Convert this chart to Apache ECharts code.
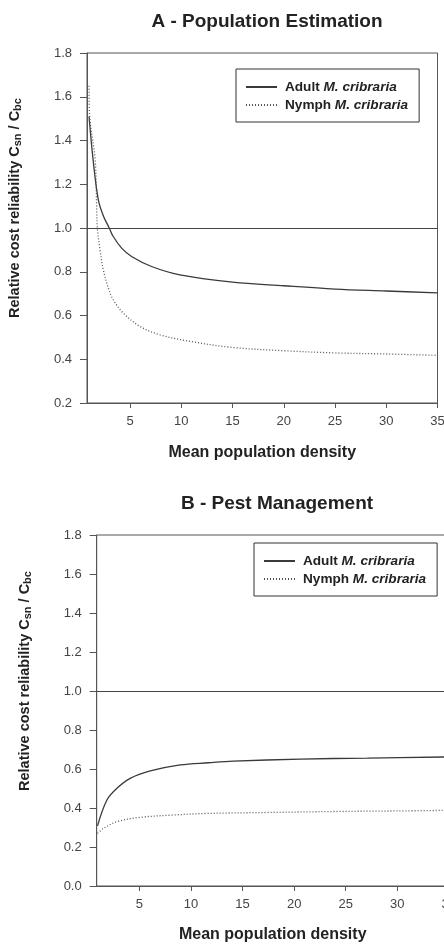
<!DOCTYPE html>
<html>
<head>
<meta charset="utf-8">
<script src="https://cdn.jsdelivr.net/npm/echarts@6/dist/echarts.min.js"></script>
<style>
  html, body { margin: 0; padding: 0; background: #fff; }
  #chart { width: 444px; height: 947px; }
</style>
</head>
<body>
<div id="chart"></div>
<script>
// values
const adultAX = [1.0, 1.4, 1.9, 2.4, 2.97, 3.36, 4.18, 5.15, 7.1, 9.86, 15, 20, 25, 30, 35]
const adultAY = [1.51, 1.31, 1.13, 1.055, 1.0, 0.961, 0.908, 0.870, 0.824, 0.786, 0.753, 0.736, 0.721, 0.712, 0.703]
const nymphAX = [1.0, 1.05, 1.6, 1.74, 1.81, 2.07, 2.39, 2.88, 3.36, 4.34, 5.97, 7.9, 10.84, 15, 20, 25, 30, 35]
const nymphAY = [1.65, 1.52, 1.31, 1.10, 1.0, 0.90, 0.809, 0.726, 0.672, 0.611, 0.55, 0.512, 0.482, 0.454, 0.439, 0.429, 0.424, 0.418]

const adultBX = [0.93, 1.84, 2.81, 4.1, 6.04, 8.95, 11.7, 14.1, 20.6, 27.1, 35]
const adultBY = [0.308, 0.441, 0.501, 0.552, 0.59, 0.621, 0.632, 0.640, 0.651, 0.656, 0.662]
const nymphBX = [0.93, 1.5, 2.81, 5.07, 8.3, 11.5, 17.4, 23.9, 30, 35]
const nymphBY = [0.27, 0.295, 0.33, 0.352, 0.364, 0.372, 0.377, 0.382, 0.385, 0.388]

const xTicks = [5, 10, 15, 20, 25, 30, 35]
const seriesNames = ['Adult M. cribraria', 'Nymph M. cribraria']
const titles = ['A - Population Estimation', 'B - Pest Management']
const xName = 'Mean population density'
const refValue = 1.0

const FONT = 'Liberation Sans, Arial, sans-serif'
const AXIS = '#555'

const zip = (xs, ys) => xs.map((x, i) => [x, ys[i]])

const xAxisOf = (gridIndex, min) => ({
  type: 'value',
  gridIndex,
  min,
  max: 35,
  name: xName,
  nameLocation: 'middle',
  nameGap: gridIndex === 0 ? 42 : 41,
  nameTextStyle: { fontFamily: FONT, fontSize: 16, fontWeight: 'bold', color: '#222' },
  axisLine: { lineStyle: { color: AXIS, width: 1 } },
  axisTick: { customValues: xTicks, length: 5, lineStyle: { color: AXIS } },
  axisLabel: { customValues: xTicks, margin: 12, fontFamily: FONT, fontSize: 13, color: '#444' },
  splitLine: { show: false }
})

const yAxisOf = (gridIndex, min) => ({
  type: 'value',
  gridIndex,
  min,
  max: 1.8,
  interval: 0.2,
  axisLine: { show: true, lineStyle: { color: AXIS, width: 1 } },
  axisTick: { show: true, length: 7, lineStyle: { color: AXIS } },
  axisLabel: {
    margin: 15, fontFamily: FONT, fontSize: 13, color: '#444',
    formatter: v => v.toFixed(1)
  },
  splitLine: { show: false }
})

const lineSeries = (name, data, idx, dotted) => ({
  name,
  type: 'line',
  xAxisIndex: idx,
  yAxisIndex: idx,
  data,
  smooth: 0.35,
  symbol: 'none',
  lineStyle: dotted
    ? { color: '#555', width: 1.3, type: [1, 2] }
    : { color: '#3a3a3a', width: 1.3, type: 'solid' },
  itemStyle: { color: dotted ? '#555' : '#3a3a3a' }
})

const refLine = {
  silent: true,
  symbol: 'none',
  label: { show: false },
  lineStyle: { color: '#444', width: 1.2, type: 'solid' },
  data: [{ yAxis: refValue }]
}

const legendOf = (left, top) => ({
  left, top,
  orient: 'vertical',
  data: seriesNames,
  selectedMode: false,
  borderColor: '#333',
  borderWidth: 1,
  borderRadius: 0,
  padding: [11, 11, 10, 9],
  itemGap: 4,
  itemWidth: 31,
  itemHeight: 14,
  itemStyle: { opacity: 0 },
  formatter: n => n.replace('M. cribraria', '{i|M. cribraria}'),
  textStyle: {
    fontFamily: FONT, fontSize: 13.6, fontWeight: 'bold', color: '#222',
    padding: [0, 0, 0, 3],
    rich: { i: { fontFamily: FONT, fontSize: 13.6, fontWeight: 'bold', fontStyle: 'italic', color: '#222' } }
  }
})

const yLabel = (x, y) => ({
  type: 'text',
  x, y,
  rotation: Math.PI / 2,
  style: {
    text: 'Relative cost reliability C{sub|sn} / C{sub|bc}',
    fontFamily: FONT, fontSize: 14.5, fontWeight: 'bold', fill: '#222',
    align: 'center', verticalAlign: 'middle',
    rich: { sub: { fontFamily: FONT, fontSize: 11, fontWeight: 'bold', fill: '#222', padding: [6, 0, 0, 0] } }
  }
})

const chart = echarts.init(document.getElementById('chart'))
chart.setOption({
  animation: false,
  backgroundColor: '#fff',
  title: [
    { text: titles[0], left: 262, top: 7, textAlign: 'center',
      textStyle: { fontFamily: FONT, fontSize: 19, fontWeight: 'bold', color: '#222' } },
    { text: titles[1], left: 272, top: 489, textAlign: 'center',
      textStyle: { fontFamily: FONT, fontSize: 19, fontWeight: 'bold', color: '#222' } }
  ],
  legend: [legendOf(236, 69), legendOf(254, 543)],
  grid: [
    { left: 87, top: 53, right: 6.5, height: 350, show: true, borderColor: AXIS, borderWidth: 1, outerBoundsMode: 'none' },
    { left: 96.7, top: 535, right: -4.8, height: 351, show: true, borderColor: AXIS, borderWidth: 1, outerBoundsMode: 'none' }
  ],
  xAxis: [xAxisOf(0, 0.8), xAxisOf(1, 0.85)],
  yAxis: [yAxisOf(0, 0.2), yAxisOf(1, 0)],
  graphic: [yLabel(15, 208), yLabel(25, 681)],
  series: [
    Object.assign(lineSeries(seriesNames[0], zip(adultAX, adultAY), 0, false), { markLine: refLine }),
    lineSeries(seriesNames[1], zip(nymphAX, nymphAY), 0, true),
    Object.assign(lineSeries(seriesNames[0], zip(adultBX, adultBY), 1, false), { markLine: refLine }),
    lineSeries(seriesNames[1], zip(nymphBX, nymphBY), 1, true)
  ]
})
</script>
</body>
</html>
